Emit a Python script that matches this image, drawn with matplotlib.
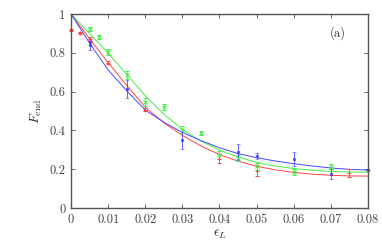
import numpy as np
import matplotlib
matplotlib.use("Agg")
import matplotlib.pyplot as plt

plt.rcParams['font.family'] = 'cmr10'
plt.rcParams['mathtext.fontset'] = 'cm'
plt.rcParams['axes.unicode_minus'] = False

# fitted curves
fit_x = [0, 0.005, 0.01, 0.015, 0.02, 0.025, 0.03, 0.035, 0.04, 0.045,
         0.05, 0.055, 0.06, 0.065, 0.07, 0.075, 0.08]
fit_red = [1.0, 0.872, 0.75, 0.632, 0.52, 0.44, 0.375, 0.32, 0.276, 0.242,
           0.216, 0.197, 0.184, 0.175, 0.169, 0.166, 0.165]
fit_green = [1.0, 0.9, 0.798, 0.69, 0.578, 0.485, 0.405, 0.345, 0.299, 0.263,
             0.236, 0.217, 0.204, 0.195, 0.189, 0.186, 0.185]
fit_blue = [1.0, 0.85, 0.712, 0.605, 0.505, 0.443, 0.39, 0.348, 0.311, 0.281,
            0.26, 0.243, 0.229, 0.217, 0.207, 0.2, 0.196]

# data points with error bars
red_x = [0, 0.0025, 0.005, 0.01, 0.02, 0.04, 0.05, 0.075]
red_y = [0.92, 0.904, 0.87, 0.749, 0.508, 0.255, 0.19, 0.182]
red_e = [0.005, 0.005, 0.01, 0.008, 0.008, 0.025, 0.025, 0.021]

green_x = [0.005, 0.0075, 0.01, 0.015, 0.02, 0.025, 0.03, 0.035, 0.04, 0.045,
           0.05, 0.06, 0.07]
green_y = [0.925, 0.88, 0.806, 0.686, 0.548, 0.522, 0.405, 0.385, 0.275, 0.258,
           0.215, 0.187, 0.213]
green_e = [0.01, 0.01, 0.015, 0.02, 0.02, 0.017, 0.02, 0.01, 0.02, 0.015,
           0.02, 0.015, 0.012]

blue_x = [0.005, 0.005, 0.015, 0.03, 0.045, 0.05, 0.06, 0.07, 0.08]
blue_y = [0.855, 0.84, 0.613, 0.35, 0.29, 0.268, 0.253, 0.175, 0.196]
blue_e = [0.015, 0.025, 0.045, 0.045, 0.04, 0.017, 0.035, 0.024, 0.005]

red_c = '#ff4444'
green_c = '#44ee44'
blue_c = '#4848ff'

fig = plt.figure(figsize=(3.82, 2.42), dpi=100)
ax = fig.add_axes([0.186, 0.140, 0.777, 0.802])

ax.plot(fit_x, fit_red, color=red_c, lw=0.7)
ax.plot(fit_x, fit_green, color=green_c, lw=0.7)
ax.plot(fit_x, fit_blue, color=blue_c, lw=0.7)

ax.errorbar(red_x, red_y, yerr=red_e, fmt='+', color=red_c, ms=3.5, mew=0.7,
            elinewidth=0.6, capsize=1.5, capthick=0.6, clip_on=False)
ax.errorbar(green_x, green_y, yerr=green_e, fmt='x', color=green_c, ms=2.8, mew=0.7,
            elinewidth=0.6, capsize=1.5, capthick=0.6, clip_on=False)
ax.errorbar(blue_x, blue_y, yerr=blue_e, fmt='s', color=blue_c, ms=2.0, mew=0.4,
            mec='#3030e0', elinewidth=0.6, capsize=1.5, capthick=0.6, clip_on=False)

ax.set_xlim(0, 0.08)
ax.set_ylim(0, 1)
ax.set_xticks([0, 0.01, 0.02, 0.03, 0.04, 0.05, 0.06, 0.07, 0.08])
ax.set_xticklabels(['0', '0.01', '0.02', '0.03', '0.04', '0.05', '0.06', '0.07', '0.08'])
ax.set_yticks([0, 0.2, 0.4, 0.6, 0.8, 1])
ax.set_yticklabels(['0', '0.2', '0.4', '0.6', '0.8', '1'])
ax.tick_params(direction='in', top=True, right=True, length=3, width=0.6,
               labelsize=9, colors='#444444', pad=4)
for s in ax.spines.values():
    s.set_color('#555555')
    s.set_linewidth(1.0)

ax.set_xlabel(r'$\epsilon_L$', fontsize=10, labelpad=1, color='#333333')
ax.set_ylabel(r'$F_{\rm end}$', fontsize=10, labelpad=4, color='#333333')
ax.text(0.9, 0.9, '(a)', transform=ax.transAxes, fontsize=9, ha='center', va='center',
        color='#333333')

fig.savefig('out.png', dpi=100)
